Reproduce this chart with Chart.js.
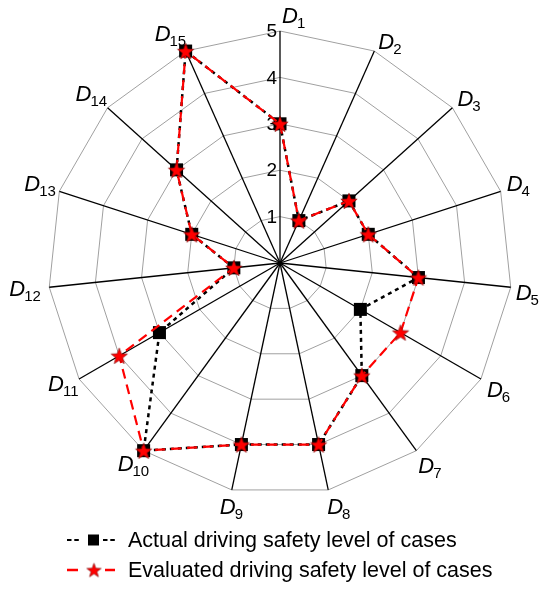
<!DOCTYPE html>
<html>
<head>
<meta charset="utf-8">
<script src="https://cdn.jsdelivr.net/npm/chart.js@4/dist/chart.umd.min.js"></script>
<style>
  html, body { margin: 0; padding: 0; background: #fff; }
  canvas { display: block; }
</style>
</head>
<body>
<canvas id="radar" width="550" height="589"></canvas>
<script>
// axis names (D + subscript index)
var axisNames = ['1','2','3','4','5','6','7','8','9','10','11','12','13','14','15'];
var tickValues = [1, 2, 3, 4, 5];

var actualLevel    = [3, 1, 2, 2, 3, 2, 3, 4, 4, 5, 3, 1, 2, 3, 5];
var evaluatedLevel = [3, 1, 2, 2, 3, 3, 3, 4, 4, 5, 4, 1, 2, 3, 5];

var seriesNames = ['Actual driving safety level of cases', 'Evaluated driving safety level of cases'];

var FONT = 'Arial, "Liberation Sans", sans-serif';

// top-left of the "D" relative to the axis tip, per label
var labelOffsets = [[2,-24],[4,-18],[5,-18],[6,-16],[5,-3],[6,2],[2,6],[-1,8],
                    [-12,8],[-26,4],[-31,-4],[-40,-7],[-35,-16],[-32,-23],[-31,-26]];

// filled red star used as point marker
function makeStar(outer, inner, color) {
  var c = document.createElement('canvas');
  var s = Math.ceil(outer * 2 + 2);
  c.width = s; c.height = s;
  var g = c.getContext('2d');
  g.translate(s / 2, s / 2 + outer * 0.1);
  g.beginPath();
  for (var i = 0; i < 10; i++) {
    var r = i % 2 === 0 ? outer : inner;
    var a = -Math.PI / 2 + i * Math.PI / 5;
    g.lineTo(r * Math.cos(a), r * Math.sin(a));
  }
  g.closePath();
  g.fillStyle = color;
  g.fill();
  g.lineWidth = 0.6;
  g.strokeStyle = '#7a0000';
  g.stroke();
  return c;
}
var starImg = makeStar(8.6, 3.6, '#ff0000');
var legendStar = makeStar(7.5, 3.1, '#ff0000');

function drawLabel(ctx, left, top, sub) {
  ctx.textAlign = 'left';
  ctx.textBaseline = 'alphabetic';
  ctx.fillStyle = '#000';
  ctx.font = 'italic 22px ' + FONT;
  var wD = ctx.measureText('D').width;
  var base = top + 16;
  ctx.fillText('D', left, base);
  ctx.font = '15px ' + FONT;
  ctx.fillText(sub, left + wD - 1, base + 5);
}

var labelsPlugin = {
  id: 'labelsPlugin',
  beforeDatasetsDraw: function (chart) {
    var ctx = chart.ctx;
    var scale = chart.scales.r;
    ctx.save();
    // tick numbers along D1 axis
    ctx.font = '19px ' + FONT;
    ctx.fillStyle = '#000';
    ctx.textAlign = 'right';
    ctx.textBaseline = 'middle';
    tickValues.forEach(function (v) {
      var p = scale.getPointPositionForValue(0, v);
      ctx.fillText(String(v), p.x - 3, p.y + 1);
    });
    // axis labels
    axisNames.forEach(function (n, i) {
      var tip = scale.getPointPositionForValue(i, 5);
      drawLabel(ctx, tip.x + labelOffsets[i][0], tip.y + labelOffsets[i][1], n);
    });
    ctx.restore();
  },
  afterDraw: function (chart) {
    var ctx = chart.ctx;
    ctx.save();
    var rows = [
      { y: 540, ds: chart.data.datasets[0] },
      { y: 570, ds: chart.data.datasets[1] }
    ];
    rows.forEach(function (row, k) {
      ctx.strokeStyle = row.ds.borderColor;
      ctx.lineWidth = k === 0 ? 2.2 : 2.4;
      ctx.setLineDash(k === 0 ? [4.5, 2.8] : []);
      ctx.beginPath();
      ctx.moveTo(67, row.y);
      ctx.lineTo(k === 0 ? 80 : 78, row.y);
      ctx.moveTo(k === 0 ? 103 : 105, row.y);
      ctx.lineTo(115, row.y);
      ctx.stroke();
      ctx.setLineDash([]);
      if (k === 0) {
        ctx.fillStyle = '#000';
        ctx.fillRect(88, row.y - 5.5, 11, 11);
      } else {
        ctx.drawImage(legendStar, 94 - legendStar.width / 2, row.y - legendStar.height / 2);
      }
      ctx.font = '21.5px ' + FONT;
      ctx.fillStyle = '#000';
      ctx.textAlign = 'left';
      ctx.textBaseline = 'middle';
      ctx.fillText(seriesNames[k], 128, row.y + 1);
    });
    ctx.restore();
  }
};

new Chart(document.getElementById('radar'), {
  type: 'radar',
  data: {
    labels: axisNames.map(function (n) { return 'D' + n; }),
    datasets: [
      {
        label: seriesNames[0],
        data: actualLevel,
        borderColor: '#000',
        borderWidth: 2.5,
        borderDash: [4, 4],
        fill: false,
        pointStyle: 'rect',
        pointRadius: 9.2,
        pointHoverRadius: 9.2,
        pointBackgroundColor: '#000',
        pointBorderColor: '#000',
        pointBorderWidth: 0,
        order: 1
      },
      {
        label: seriesNames[1],
        data: evaluatedLevel,
        borderColor: '#ff0000',
        borderWidth: 2.2,
        borderDash: [10, 6],
        fill: false,
        pointStyle: starImg,
        pointRadius: 9,
        order: 0
      }
    ]
  },
  options: {
    responsive: false,
    animation: false,
    layout: { padding: { left: 48, right: 38, top: 31, bottom: 94 } },
    plugins: {
      legend: { display: false },
      tooltip: { enabled: false }
    },
    elements: { line: { tension: 0 } },
    scales: {
      r: {
        min: 0,
        max: 5,
        ticks: { display: false, stepSize: 1 },
        pointLabels: { display: false },
        grid: { color: '#a0a0a0', lineWidth: 1, circular: false },
        angleLines: { color: '#000', lineWidth: 1.3 }
      }
    }
  },
  plugins: [labelsPlugin]
});
</script>
</body>
</html>
